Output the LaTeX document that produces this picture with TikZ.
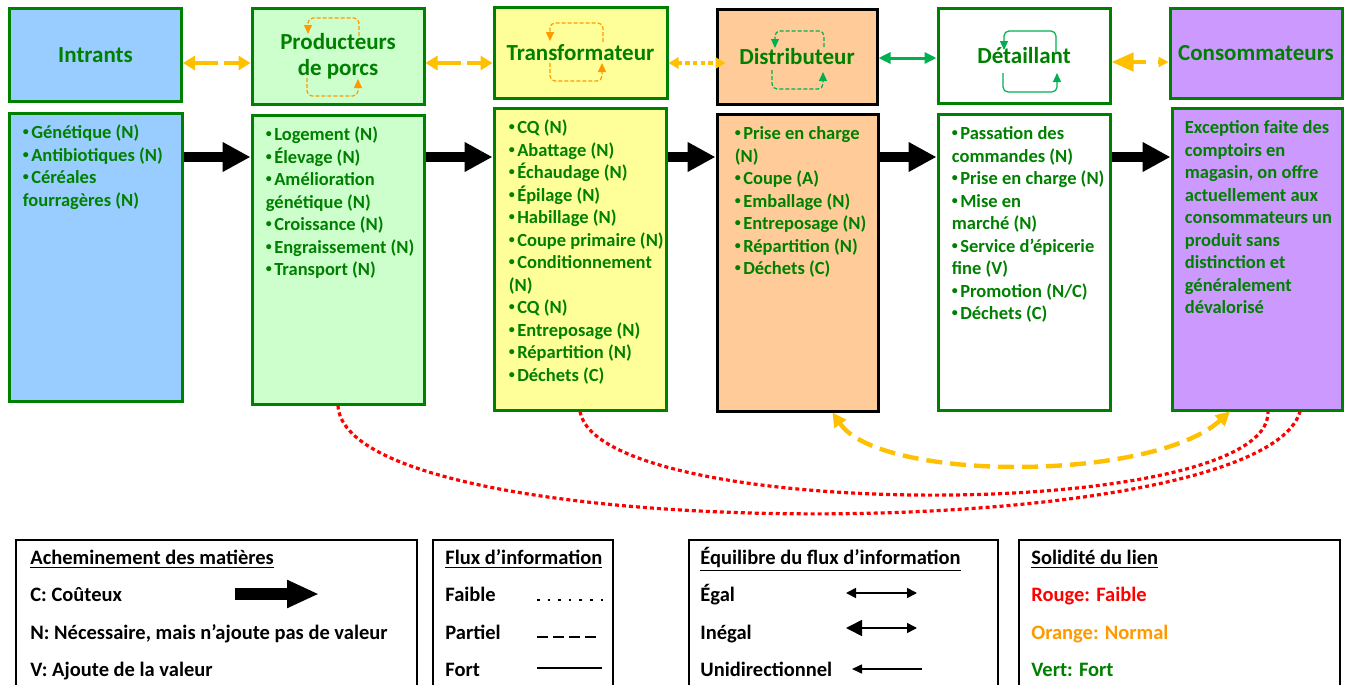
\documentclass[tikz,border=0pt]{standalone}
\usepackage{fontspec}
\setmainfont{Carlito}
\usetikzlibrary{arrows.meta}

\definecolor{vertfonce}{HTML}{008000}
\definecolor{bleuint}{HTML}{99CCFF}
\definecolor{vertpale}{HTML}{CCFFCC}
\definecolor{jaunepale}{HTML}{FFFF99}
\definecolor{peche}{HTML}{FFCC99}
\definecolor{lilas}{HTML}{CC99FF}
\definecolor{ambre}{HTML}{FFC000}
\definecolor{orangeb}{HTML}{FF9900}
\definecolor{vertvif}{HTML}{00B050}
\newcommand{\puce}{\raisebox{0.3ex}{\fontsize{6}{6}\selectfont•}\hspace{1.2pt}}

\begin{document}
\begin{tikzpicture}[x=0.5pt,y=-0.5pt,
  entete/.style={draw=vertfonce,line width=1.5pt,inner sep=0pt,text=vertfonce,align=center,
    font=\fontsize{11.5}{13}\selectfont\bfseries},
  boite/.style={draw=vertfonce,line width=1.5pt,inner sep=0pt},
  corps/.style={anchor=north west,inner sep=0pt,align=left,text=vertfonce,
    font=\fontsize{9.25}{11.25}\selectfont\bfseries},
  matiere/.style={line width=5.3pt,-{Triangle[length=14pt,width=14pt]}},
  lientiret/.style={ambre,line width=2pt,dash pattern=on 12pt off 3pt,{Triangle[length=6pt,width=7pt]}-{Triangle[length=6pt,width=7pt]}},
  boucle/.style={line width=0.6pt,rounded corners=2.5pt,-{Triangle[length=4.5pt,width=4pt]}},
  rouge/.style={red,line width=1.6pt,dash pattern=on 2pt off 1.5pt},
  legende/.style={draw=black,line width=0.75pt,inner sep=0pt,anchor=north west,minimum height=80.5pt},
  legtexte/.style={anchor=base west,inner sep=0pt,font=\fontsize{10.25}{12}\selectfont\bfseries}]
  \useasboundingbox (0,0) rectangle (1346,685);
  \clip (0,0) rectangle (1346,685);
  \fill[white] (0,0) rectangle (1346,685);

  % maillons de la chaine
  \node[entete,fill=bleuint,minimum width=86pt,minimum height=46.75pt] (intr) at (95.5,54.75) {Intrants};
  \node[entete,fill=vertpale,minimum width=86pt,minimum height=48pt] (prod) at (338,56) {Producteurs\\de porcs};
  \node[entete,fill=jaunepale,minimum width=86.5pt,minimum height=45.5pt] (transf) at (580.5,52.5) {Transformateur};
  \node[entete,draw=black,fill=peche,minimum width=80pt,minimum height=47.5pt] (distr) at (797,56.5) {Distributeur};
  \node[entete,fill=white,minimum width=86pt,minimum height=47.5pt] (detail) at (1024,55.5) {Détaillant};
  \node[entete,fill=lilas,minimum width=86pt,minimum height=45pt] (conso) at (1256,53) {Consommateurs};

  % activites
  \node[boite,fill=bleuint,minimum width=86.5pt,minimum height=144pt] (intrB) at (95.5,257) {};
  \node[boite,fill=vertpale,minimum width=86pt,minimum height=144.5pt] (prodB) at (338,259.5) {};
  \node[boite,fill=jaunepale,minimum width=86pt,minimum height=151pt] (transfB) at (580,259) {};
  \node[boite,draw=black,fill=peche,minimum width=80.5pt,minimum height=148.5pt] (distrB) at (797.5,262.5) {};
  \node[boite,fill=white,minimum width=86pt,minimum height=148pt] (detailB) at (1024,262) {};
  \node[boite,fill=lilas,minimum width=85pt,minimum height=151pt] (consoB) at (1257,259) {};

  \node[corps] (intrT) at ([shift={(15,11)}]intrB.north west) {\strut\puce Génétique (N)\\\puce Antibiotiques (N)\\\puce Céréales\\fourragères (N)};
  \node[corps] (prodT) at ([shift={(15,11)}]prodB.north west) {\strut\puce Logement (N)\\\puce Élevage (N)\\\puce Amélioration\\génétique (N)\\\puce Croissance (N)\\\puce Engraissement (N)\\\puce Transport (N)};
  \node[corps] (transfT) at ([shift={(16,11)}]transfB.north west) {\strut\puce CQ (N)\\\puce Abattage (N)\\\puce Échaudage (N)\\\puce Épilage (N)\\\puce Habillage (N)\\\puce Coupe primaire (N)\\\puce Conditionnement\\(N)\\\puce CQ (N)\\\puce Entreposage (N)\\\puce Répartition (N)\\\puce Déchets (C)};
  \node[corps] (distrT) at ([shift={(19,11)}]distrB.north west) {\strut\puce Prise en charge\\(N)\\\puce Coupe (A)\\\puce Emballage (N)\\\puce Entreposage (N)\\\puce Répartition (N)\\\puce Déchets (C)};
  \node[corps] (detailT) at ([shift={(15,11)}]detailB.north west) {\strut\puce Passation des\\commandes (N)\\\puce Prise en charge (N)\\\puce Mise en\\marché (N)\\\puce Service d’épicerie\\fine (V)\\\puce Promotion (N/C)\\\puce Déchets (C)};
  \node[corps] (consoT) at ([shift={(14,11)}]consoB.north west) {\strut Exception faite des\\comptoirs en\\magasin, on offre\\actuellement aux\\consommateurs un\\produit sans\\distinction et\\généralement\\dévalorisé};

  % acheminement des matieres
  \coordinate (niveau) at (0,157);
  \draw[matiere] (intrB.east |- niveau) -- (prodB.west |- niveau);
  \draw[matiere] (prodB.east |- niveau) -- (transfB.west |- niveau);
  \draw[matiere] (transfB.east |- niveau) -- (distrB.west |- niveau);
  \draw[matiere] (distrB.east |- niveau) -- (detailB.west |- niveau);
  \draw[matiere] (detailB.east |- niveau) -- (consoB.west |- niveau);

  % flux d'information
  \coordinate (haut) at (0,63);
  \coordinate (haut2) at (0,58);
  \coordinate (haut3) at (0,62);
  \draw[lientiret] (intr.east |- haut) -- (prod.west |- haut);
  \draw[lientiret] (prod.east |- haut) -- (transf.west |- haut);
  \draw[ambre,line width=2.2pt,dash pattern=on 2.2pt off 1.6pt,{Triangle[length=5pt,width=5.5pt]}-{Triangle[length=5pt,width=5.5pt]}] (transf.east |- haut) -- ([xshift=5pt]distr.west |- haut);
  \draw[vertvif,line width=1.5pt,{Triangle[length=6pt,width=5.5pt]}-{Triangle[length=6pt,width=5.5pt]}] (distr.east |- haut2) -- (detail.west |- haut2);
  \draw[ambre,line width=2.2pt,dash pattern=on 7pt off 6pt,{Triangle[length=11pt,width=9pt]}-{Triangle[length=5pt,width=5pt]}] (detail.east |- haut3) -- (conso.west |- haut3);

  % boucles internes
  \draw[boucle,orangeb,dash pattern=on 2pt off 1pt] ([shift={(21,-20)}]prod.center) |- ([shift={(-30,-38)}]prod.center) -- ([shift={(-30,-22)}]prod.center);
  \draw[boucle,orangeb,dash pattern=on 2pt off 1pt] ([shift={(-31,22)}]prod.center) |- ([shift={(20,40)}]prod.center) -- ([shift={(20,23)}]prod.center);
  \draw[boucle,orangeb,dash pattern=on 2pt off 1pt] ([shift={(22.5,-10.5)}]transf.center) |- ([shift={(-30.5,-29.5)}]transf.center) -- ([shift={(-30.5,-11.5)}]transf.center);
  \draw[boucle,orangeb,dash pattern=on 2pt off 1pt] ([shift={(-30.5,10.5)}]transf.center) |- ([shift={(21.5,28.5)}]transf.center) -- ([shift={(21.5,10.5)}]transf.center);
  \draw[boucle,vertvif,dash pattern=on 2pt off 1pt] ([shift={(27,-9.5)}]distr.center) |- ([shift={(-22,-25.5)}]distr.center) -- ([shift={(-22,-8.5)}]distr.center);
  \draw[boucle,vertvif,dash pattern=on 2pt off 1pt] ([shift={(-25,13.5)}]distr.center) |- ([shift={(26,32.5)}]distr.center) -- ([shift={(26,15.5)}]distr.center);
  \draw[boucle,vertvif] ([shift={(32,-2.5)}]detail.center) |- ([shift={(-20,-24.5)}]detail.center) -- ([shift={(-20,-5.5)}]detail.center);
  \draw[boucle,vertvif] ([shift={(-21,17.5)}]detail.center) |- ([shift={(33,36.5)}]detail.center) -- ([shift={(33,17.5)}]detail.center);

  % liens avec le consommateur
  \draw[rouge] (prodB.south) .. controls (345,549) and (1261,549) .. ([xshift=21.5pt]consoB.south);
  \draw[rouge] (transfB.south) .. controls (600,523) and (1272,523) .. ([xshift=5.5pt]consoB.south);
  \draw[ambre,line width=2.2pt,dash pattern=on 8pt off 4pt,{Triangle[length=7pt,width=7pt]}-{Triangle[length=7pt,width=7pt]}] ([xshift=17.5pt]distrB.south) .. controls (880,482) and (1152,482) .. ([xshift=-13.5pt]consoB.south);

  % legende
  \node[legende,minimum width=200.5pt] (leg1) at (15,539) {};
  \node[legende,minimum width=90pt] (leg2) at (432,539) {};
  \node[legende,minimum width=154.5pt] (leg3) at (688,539) {};
  \node[legende,minimum width=160.5pt] (leg4) at (1018,539) {};

  \node[legtexte] (acheminement) at (30,564) {\underline{Acheminement des matières}};
  \node[legtexte] (couteux) at (30,601) {C: Coûteux};
  \node[legtexte] (necessaire) at (30,639) {N: Nécessaire, mais n’ajoute pas de valeur};
  \node[legtexte] (ajoute) at (30,676) {V: Ajoute de la valeur};
  \draw[line width=6pt,-{Triangle[length=16pt,width=13pt]}] (235,594) -- (319,594);

  \node[legtexte] (fluxinfo) at (445,564) {\underline{Flux d’information}};
  \node[legtexte] (faible) at (445,601) {Faible};
  \node[legtexte] (partiel) at (445,639) {Partiel};
  \node[legtexte] (fort) at (445,676) {Fort};
  \draw[line width=1.3pt,dash pattern=on 1.3pt off 4pt] (537,600) -- (603,600);
  \draw[line width=0.6pt,dash pattern=on 5.5pt off 2.5pt] (537,637) -- (600,637);
  \draw[line width=1pt] (537,668) -- (602,668);

  \node[legtexte] (equilibre) at (700,564) {\underline{Équilibre du flux d’information}};
  \node[legtexte] (egal) at (700,601) {Égal};
  \node[legtexte] (inegal) at (700,639) {Inégal};
  \node[legtexte] (unidir) at (700,676) {Unidirectionnel};
  \draw[line width=0.8pt,{Triangle[length=5pt,width=5pt]}-{Triangle[length=5pt,width=5pt]}] (846,593) -- (917,593);
  \draw[line width=0.8pt,{Triangle[length=8pt,width=8pt]}-{Triangle[length=5pt,width=5pt]}] (846,628) -- (917,628);
  \draw[line width=0.8pt,{Triangle[length=5pt,width=4.5pt]}-] (852,669) -- (922,669);

  \node[legtexte] (solidite) at (1031,564) {\underline{Solidité du lien}};
  \node[legtexte,text=red] (rougef) at (1031,601) {Rouge: Faible};
  \node[legtexte,text=orangeb] (orangen) at (1031,639) {Orange: Normal};
  \node[legtexte,text=vertfonce] (vertf) at (1031,676) {Vert: Fort};
\end{tikzpicture}
\end{document}
